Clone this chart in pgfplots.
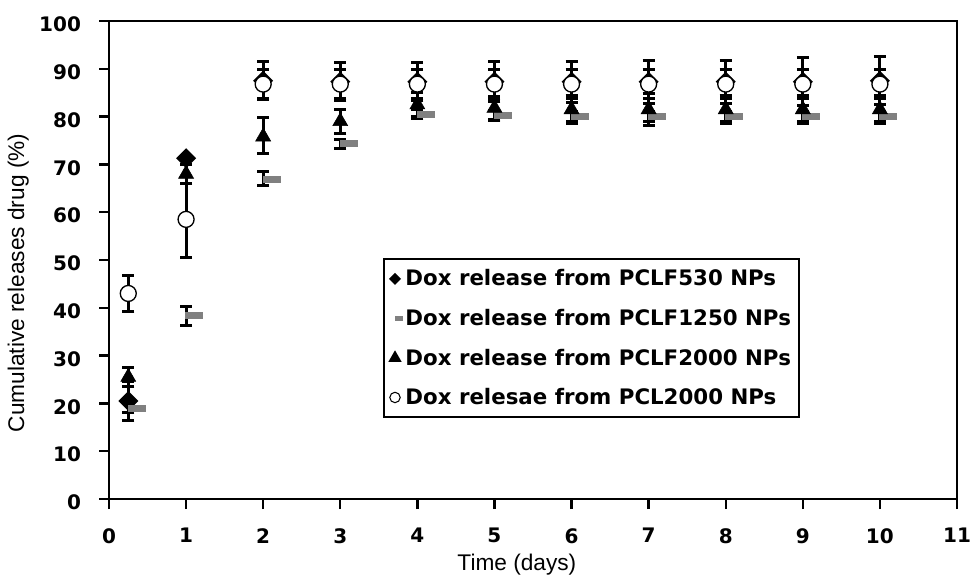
\documentclass[border=0pt]{standalone}
\usepackage{fontspec}
\setmainfont{Liberation Sans}
\newfontfamily\wide{DejaVu Sans}
\usepackage{pgfplots}
\pgfplotsset{compat=1.18}

% marks drawn like the spreadsheet ones
\pgfdeclareplotmark{dia}{%
  \pgfpathmoveto{\pgfqpoint{0pt}{7.5pt}}%
  \pgfpathlineto{\pgfqpoint{7.5pt}{0pt}}%
  \pgfpathlineto{\pgfqpoint{0pt}{-7.5pt}}%
  \pgfpathlineto{\pgfqpoint{-7.5pt}{0pt}}%
  \pgfpathclose\pgfusepathqfill}
\pgfdeclareplotmark{gbar}{%
  \pgfpathrectangle{\pgfqpoint{-0.5pt}{-2.6pt}}{\pgfqpoint{13.5pt}{5.2pt}}%
  \pgfusepathqfill}
\pgfdeclareplotmark{gbarleg}{%
  \pgfpathrectangle{\pgfqpoint{-3pt}{-2pt}}{\pgfqpoint{6pt}{4pt}}%
  \pgfusepathqfill}

\pgfplotsset{
  errs/.style={
    error bars/y dir=both, error bars/y explicit,
    error bars/error mark=-,
    error bars/error bar style={line width=2.2pt, black},
    error bars/error mark options={rotate=90, mark size=4.5pt, line width=2.2pt, black},
  },
}

\begin{document}
\begin{tikzpicture}
\begin{axis}[
    scale only axis,
    width=636pt, height=358.5pt,
    xmin=0, xmax=11, ymin=0, ymax=100,
    xtick={0,1,...,11}, ytick={0,10,...,100},
    tick align=outside, tick pos=left,
    major tick length=7.5pt,
    axis line style={line width=2pt},
    every tick/.style={black, line width=1.8pt},
    ticklabel style={font=\wide\fontsize{15}{15}\selectfont\bfseries},
    xticklabel style={yshift=-11pt},
    yticklabel style={xshift=-10pt, yshift=-2.5pt},
    /pgf/number format/assume math mode=true,
    xlabel={Time (days)},
    ylabel={Cumulative releases drug (\%)},
    label style={font=\fontsize{17}{17}\selectfont},
    xlabel style={at={(axis description cs:0.481,-0.138)}, anchor=center},
    ylabel style={at={(axis description cs:-0.107,0.452)}, anchor=center},
    clip=false,
    legend style={at={(axis cs:3.55,50.4)}, anchor=north west,
      draw=black, line width=1.5pt,
      font=\wide\fontsize{16}{16}\selectfont\bfseries,
      row sep=12pt, inner xsep=4pt, inner ysep=6pt},
    legend cell align=left,
]
% Dox release from PCLF530 NPs
\addplot[only marks, mark=dia, black, errs,
    legend image code/.code={\draw[mark options={scale=0.6}] plot coordinates {(0.2cm,0cm)};}]
  coordinates {
  (0.25,20.5) +- (0,4)
  (1,71.3) +- (0,0.5)
  (2,87.5) +- (0,4)
  (3,87.3) +- (0,4)
  (4,87.3) +- (0,4)
  (5,87.3) +- (0,4.2)
  (6,87.3) +- (0,4.3)
  (7,87.3) +- (0,4.5)
  (8,87.3) +- (0,4.5)
  (9,87.3) +- (0,5)
  (10,87.5) +- (0,5)
};
% Dox release from PCLF1250 NPs
\addplot[only marks, mark=gbar, color=gray, errs,
    legend image code/.code={\draw[mark=gbarleg] plot coordinates {(0.3cm,0cm)};}]
  coordinates {
  (0.25,19) +- (0,1)
  (1,38.3) +- (0,2)
  (2,66.8) += (0,1.8) -= (0,1.3)
  (3,74.3) +- (0,1)
  (4,80.5) +- (0,1)
  (5,80.2) +- (0,1)
  (6,80) +- (0,1)
  (7,80) +- (0,1)
  (8,80) +- (0,1)
  (9,80) +- (0,1)
  (10,80) +- (0,1)
};
% Dox release from PCLF2000 NPs
\addplot[only marks, mark=triangle*, mark size=6.5pt, black, errs,
    legend image code/.code={\draw[mark options={scale=0.65}] plot coordinates {(0.2cm,0cm)};}]
  coordinates {
  (0.25,25.5) +- (0,2)
  (1,68) +- (0,2)
  (2,75.8) += (0,4) -= (0,3.6)
  (3,79) +- (0,2.5)
  (4,82.5) +- (0,2.5)
  (5,81.8) +- (0,2.5)
  (6,81.5) +- (0,3)
  (7,81.5) +- (0,3.3)
  (8,81.5) +- (0,3)
  (9,81.5) +- (0,3)
  (10,81.5) +- (0,3)
};
% Dox relesae from PCL2000 NPs
\addplot[only marks, mark=*, mark size=6pt, black, errs,
    mark options={fill=white, line width=1pt},
    legend image code/.code={\draw[mark options={scale=0.65, fill=white, line width=0.8pt}] plot coordinates {(0.2cm,0cm)};}]
  coordinates {
  (0.25,43) += (0,3.7) -= (0,3.8)
  (1,58.5) += (0,7.5) -= (0,8)
  (2,86.8) +- (0,3)
  (3,86.8) +- (0,3)
  (4,86.8) +- (0,3)
  (5,86.8) +- (0,3)
  (6,86.8) +- (0,3)
  (7,86.8) +- (0,3)
  (8,86.8) +- (0,3)
  (9,86.8) +- (0,3)
  (10,86.8) +- (0,3)
};
\legend{Dox release from PCLF530 NPs,
        Dox release from PCLF1250 NPs,
        Dox release from PCLF2000 NPs,
        Dox relesae from PCL2000 NPs\rule[-13pt]{0pt}{1pt}}
\end{axis}
\pgfresetboundingbox
\path ([shift={(-81.75pt,-65.25pt)}]current axis.south west)
  rectangle ([shift={(11.25pt,15.75pt)}]current axis.north east);
\end{tikzpicture}
\end{document}
